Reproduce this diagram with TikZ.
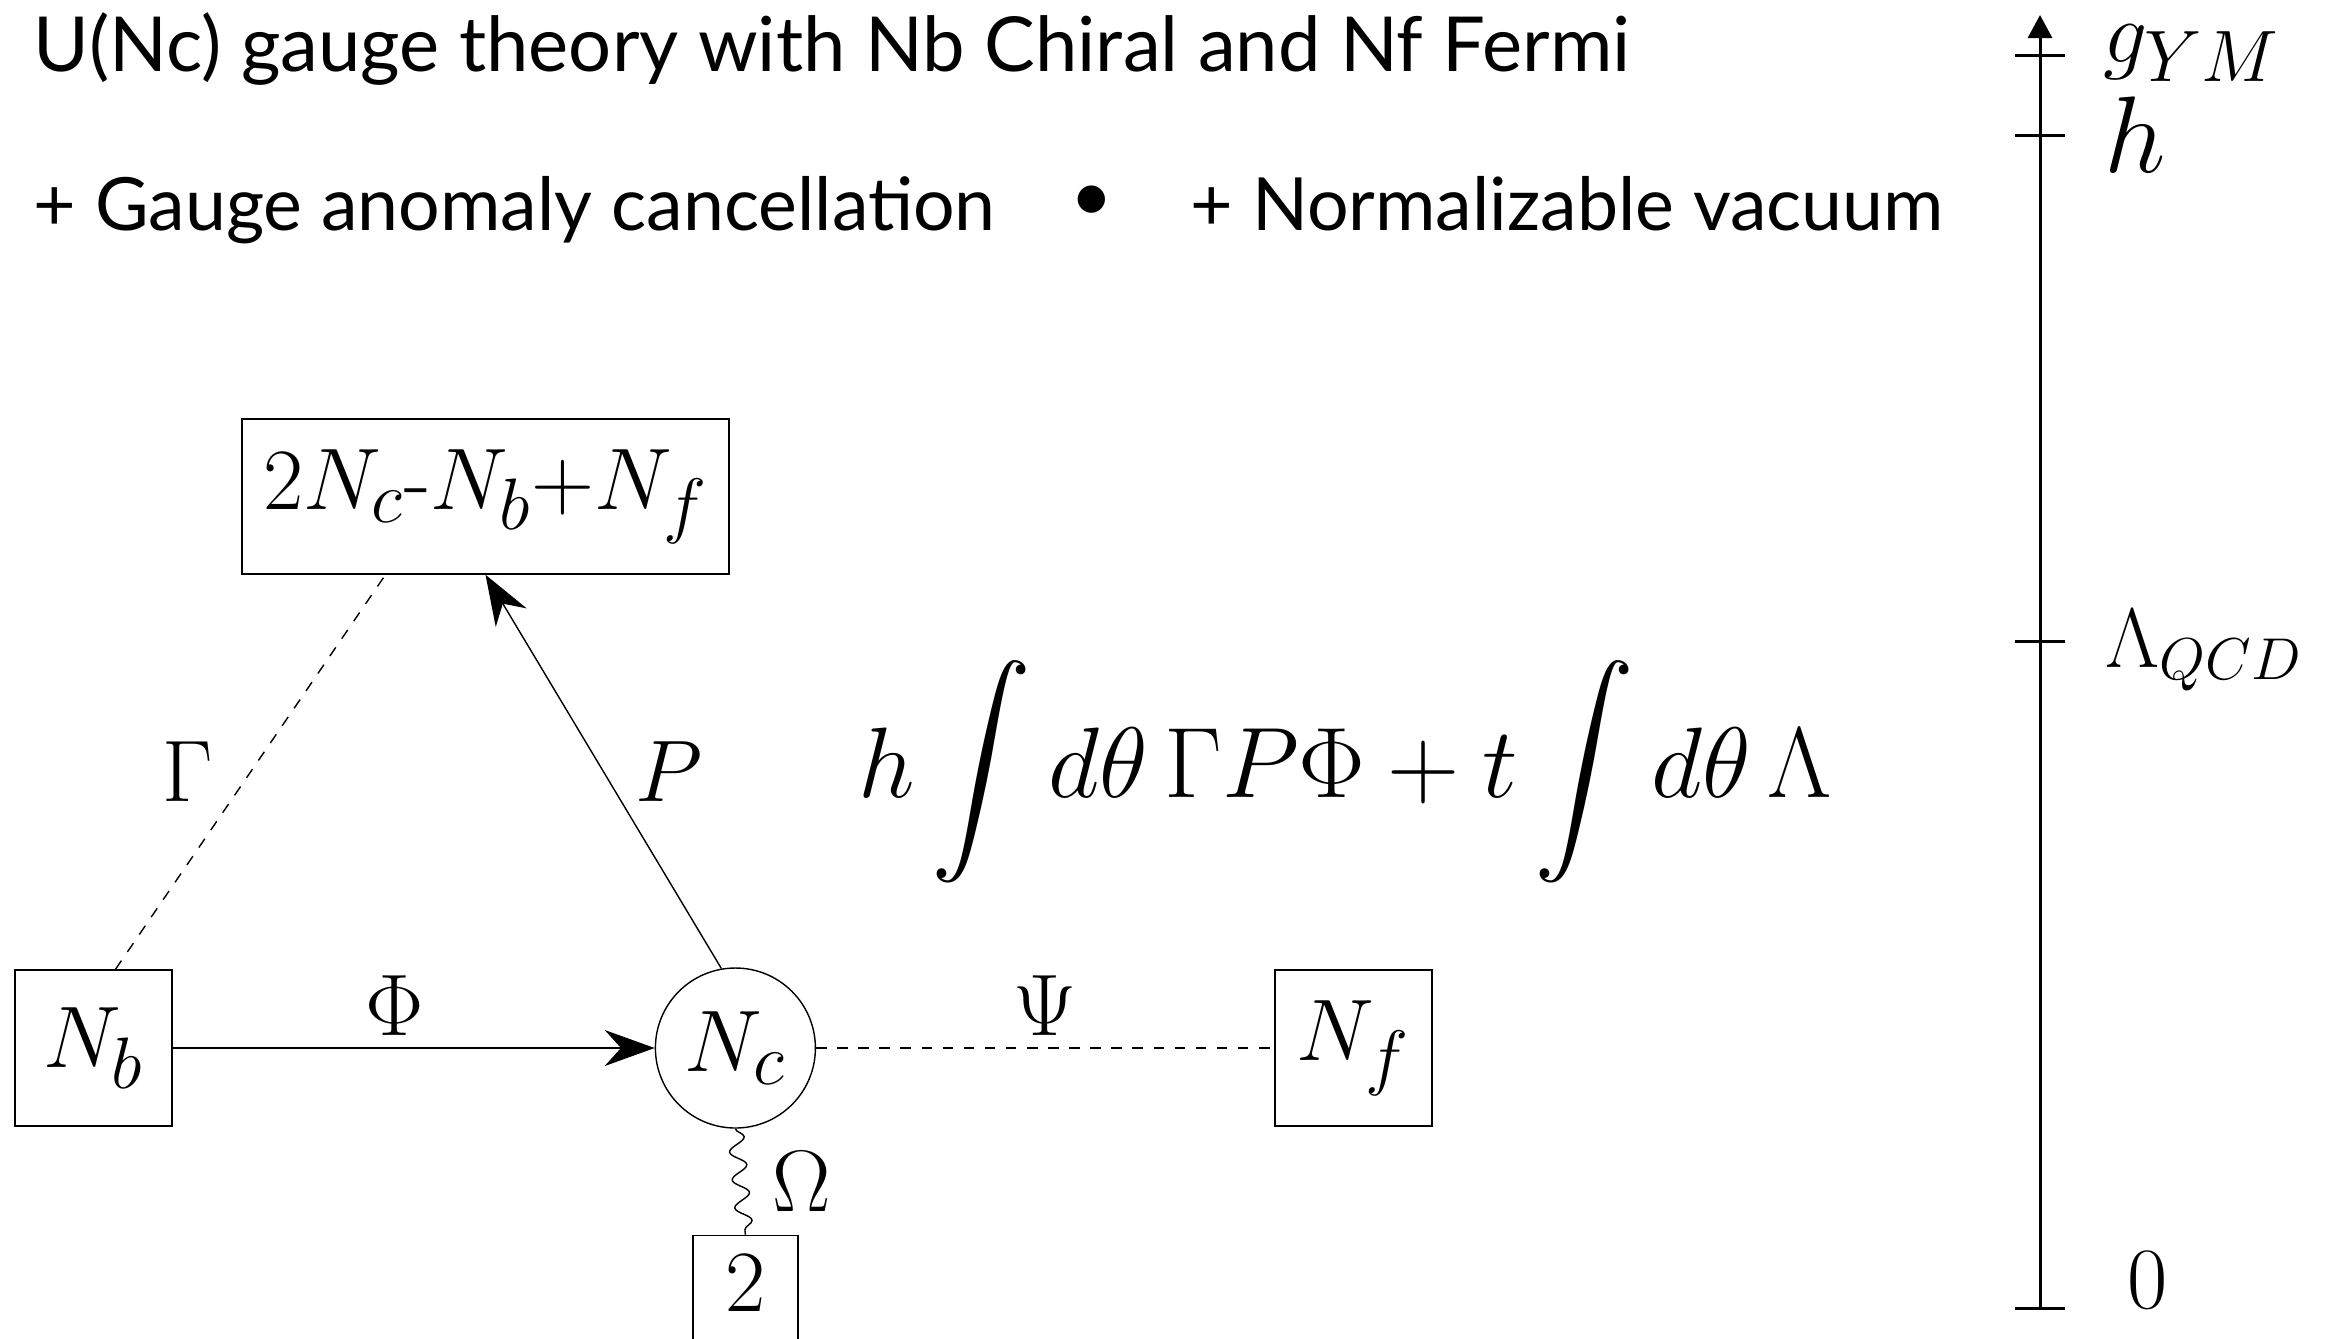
\documentclass[tikz,border=0pt]{standalone}
\usepackage{fix-cm}
\usepackage{amsmath,amssymb}
\usepackage{fontspec}
\setsansfont{Lato}
\usepackage{tikz}
\usetikzlibrary{arrows.meta,positioning,decorations.pathmorphing}

\newcommand{\headsize}{\fontsize{21.6}{25}\selectfont\sffamily}
\newcommand{\subheadsize}{\fontsize{20.9}{25}\selectfont\sffamily}

\begin{document}
\begin{tikzpicture}[
    box/.style={draw,rectangle,minimum width=1.57cm,minimum height=1.56cm,font=\Huge},
    gauge/.style={draw,circle,minimum size=1.6cm,inner sep=0pt,font=\Huge},
    lbl/.style={font=\Huge},
    head/.style={anchor=base west,inner sep=0pt,font=\headsize},
    scalelbl/.style={anchor=base west,inner sep=0pt,font=\Huge},
    scaleline/.style={line width=0.85pt},
    >={Stealth[length=5mm,width=3.6mm]}
]
\useasboundingbox (0,0) rectangle (23.32,-13.38);
% header
\node[head] (title) at (0.33,-0.71) {U(Nc) gauge theory with Nb Chiral and Nf Fermi};
\node[head,font=\subheadsize] (anomaly) at (0.33,-2.30) {+ Gauge anomaly cancellation};
\node[font=\subheadsize] (dot) at (10.92,-2.04) {\textbullet};
\node[head,font=\subheadsize] (vacuum) at (11.90,-2.30) {+ Normalizable vacuum};
% quiver
\node[box] (Nb) at (0.935,-10.48) {$N_b$};
\node[gauge,right=4.82cm of Nb] (Nc) {$N_c$};
\node[box,right=4.58cm of Nc] (Nf) {$N_f$};
\node[draw,rectangle,font=\Huge,below=1.06cm of Nc,xshift=1mm,minimum width=1.05cm,inner ysep=0.2cm,text depth=1cm] (two) {$2$};
\node[box,minimum width=4.87cm,minimum height=1.55cm] (top) at (4.855,-4.965) {$2N_c$-$N_b$+$N_f$};
\draw[->] (Nb) -- node[pos=0.46,above,lbl]{$\Phi$} (Nc);
\draw[->] (Nc.100) -- node[midway,right=2mm,lbl]{$P$} (top.south);
\draw[dashed] ([xshift=2.2mm]Nb.north) -- node[midway,left=2.5mm,lbl]{$\Gamma$} ([xshift=-10mm]top.south);
\draw[dashed] (Nc) -- node[midway,above,lbl]{$\Psi$} (Nf);
\draw[decorate,decoration={snake,amplitude=0.8mm,segment length=2.8mm}] (Nc.south) -- node[midway,right=2mm,lbl]{$\Omega$} (two.north);
% superpotential
\node[font=\fontsize{28.5}{34}\selectfont] (action) at (13.45,-7.72) {$\displaystyle h\int d\theta\,\Gamma P\Phi+t\int d\theta\,\Lambda$};
% energy scale
\coordinate (zero) at (20.40,-13.08);
\coordinate (axtop) at (20.40,-0.15);
\draw[scaleline,-{Triangle[length=2.3mm,width=2.4mm]}] (zero) -- (axtop);
\foreach \y in {-0.55,-1.35,-6.41,-13.08}
  \draw[scaleline] (20.15,\y) -- (20.65,\y);
\node[scalelbl] (gym) at (21.03,-0.62) {$g_{YM}$};
\node[scalelbl,font=\fontsize{31}{36}\selectfont] (hlab) at (21.04,-1.72) {$h$};
\node[scalelbl,font=\fontsize{24}{29}\selectfont] (lqcd) at (21.05,-6.67) {$\Lambda_{QCD}$};
\node[scalelbl] (zerolab) at (21.27,-13.08) {$0$};
\end{tikzpicture}
\end{document}
